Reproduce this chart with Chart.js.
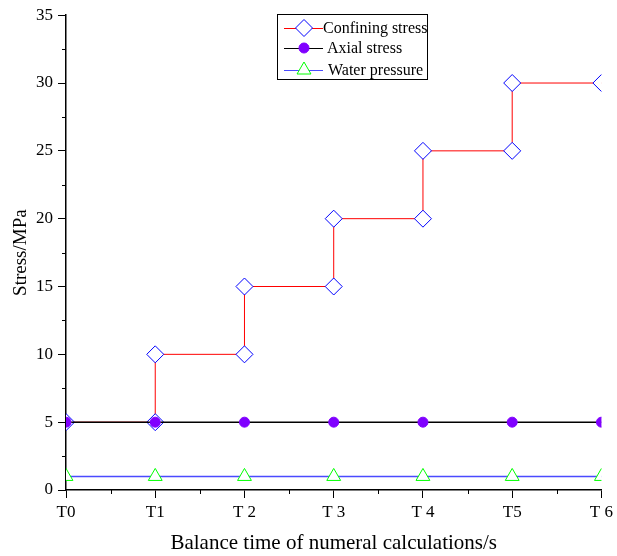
<!DOCTYPE html>
<html>
<head>
<meta charset="utf-8">
<script src="https://cdn.jsdelivr.net/npm/chart.js@4/dist/chart.umd.min.js"></script>
<style>
    html, body { margin: 0; padding: 0; background: #fff; }
    #wrap { width: 617px; height: 556px; }
</style>
</head>
<body>
<div id="wrap"><canvas id="stressChart" width="617" height="556"></canvas></div>
<script>

// Data
const timeLabels = ['T0', 'T1', 'T 2', 'T 3', 'T 4', 'T5', 'T 6'];
const timeSteps = [0, 1, 2, 3, 4, 5, 6];
const confiningX = [0, 1, 1, 2, 2, 3, 3, 4, 4, 5, 5, 6];
const confiningY = [5, 5, 10, 10, 15, 15, 20, 20, 25, 25, 30, 30];
const axialStress = [5, 5, 5, 5, 5, 5, 5];
const waterPressure = [1, 1, 1, 1, 1, 1, 1];
const yTicks = [0, 5, 10, 15, 20, 25, 30, 35];

const serif = "'Liberation Serif', 'Times New Roman', serif";

const series = [
    { label: 'Confining stress', line: '#ff0000', lineWidth: 1, marker: 'rectRot', markerColor: '#0000ff', markerFill: '#ffffff', radius: 8.5 },
    { label: 'Axial stress', line: '#000000', lineWidth: 1.5, marker: 'circle', markerColor: '#8000ff', markerFill: '#8000ff', radius: 5 },
    { label: 'Water pressure', line: '#4a4aff', lineWidth: 1.5, marker: 'triangle', markerColor: '#00ff00', markerFill: '#ffffff', radius: 8 }
];

const toPoints = (xs, ys) => xs.map((x, i) => ({ x: x, y: ys[i] }));

const drawMarker = (ctx, s, x, y) => {
    const r = s.radius;
    ctx.save();
    ctx.beginPath();
    if (s.marker === 'rectRot') {
        ctx.moveTo(x, y - r); ctx.lineTo(x + r, y); ctx.lineTo(x, y + r); ctx.lineTo(x - r, y); ctx.closePath();
    } else if (s.marker === 'triangle') {
        ctx.moveTo(x, y - r); ctx.lineTo(x + r * 0.87, y + r * 0.5); ctx.lineTo(x - r * 0.87, y + r * 0.5); ctx.closePath();
    } else {
        ctx.arc(x, y, r, 0, Math.PI * 2);
    }
    ctx.fillStyle = s.markerFill;
    ctx.fill();
    ctx.lineWidth = 1;
    ctx.strokeStyle = s.markerColor;
    ctx.stroke();
    ctx.restore();
}

// minor ticks + framed legend
const extras = {
    id: 'extras',
    afterDraw(chart) {
        const { ctx, scales: { x, y } } = chart;
        ctx.save();
        ctx.strokeStyle = '#000';
        ctx.lineWidth = 1;
        for (let v = 2.5; v < 35; v += 5) {
            const py = Math.round(y.getPixelForValue(v)) + 0.5;
            ctx.beginPath(); ctx.moveTo(x.left - 4, py); ctx.lineTo(x.left, py); ctx.stroke();
        }
        for (let v = 0.5; v < 6; v += 1) {
            const px = Math.round(x.getPixelForValue(v)) + 0.5;
            ctx.beginPath(); ctx.moveTo(px, y.bottom); ctx.lineTo(px, y.bottom + 4); ctx.stroke();
        }

        // legend box
        const bx = 277, by = 14, bw = 150, bh = 65;
        ctx.fillStyle = '#fff';
        ctx.fillRect(bx, by, bw, bh);
        ctx.lineWidth = 1;
        ctx.strokeStyle = '#000';
        ctx.strokeRect(bx + 0.5, by + 0.5, bw, bh);
        const rows = [28, 48, 70];
        const textX = [323, 327, 328];
        ctx.font = '16px ' + serif;
        ctx.textBaseline = 'middle';
        series.forEach((s, i) => {
            const ry = rows[i];
            ctx.strokeStyle = s.line;
            ctx.lineWidth = 1;
            ctx.beginPath(); ctx.moveTo(284, ry + 0.5); ctx.lineTo(323, ry + 0.5); ctx.stroke();
            drawMarker(ctx, s, 304, ry);
            ctx.fillStyle = '#000';
            ctx.fillText(s.label, textX[i], ry + 1);
        });
        ctx.restore();
    }
}

const makeDataset = (s, data, order) => ({
    label: s.label,
    data: data,
    borderColor: s.line,
    borderWidth: s.lineWidth,
    pointStyle: s.marker,
    pointRadius: s.radius,
    pointBorderColor: s.markerColor,
    pointBackgroundColor: s.markerFill,
    pointBorderWidth: 1,
    tension: 0,
    order: order
});

new Chart(document.getElementById('stressChart'), {
    type: 'line',
    data: {
        datasets: [
            makeDataset(series[0], toPoints(confiningX, confiningY), 3),
            makeDataset(series[1], toPoints(timeSteps, axialStress), 1),
            makeDataset(series[2], toPoints(timeSteps, waterPressure), 2)
        ]
    },
    options: {
        responsive: false,
        animation: false,
        layout: { padding: { top: 12, right: 15, left: 0, bottom: 0 } },
        plugins: {
            legend: { display: false },
            tooltip: { enabled: false }
        },
        scales: {
            x: {
                type: 'linear',
                min: 0,
                max: 6,
                afterFit: (scale) => { scale.height = 66; },
                afterBuildTicks: (scale) => { scale.ticks = timeSteps.map(v => ({ value: v })); },
                ticks: {
                    autoSkip: false,
                    maxRotation: 0,
                    padding: 4,
                    color: '#000',
                    font: { family: serif, size: 17 },
                    callback: (v) => timeLabels[v]
                },
                grid: { drawOnChartArea: false, tickLength: 8, tickColor: '#000', tickWidth: 1 },
                border: { color: '#000', width: 1.5 },
                title: {
                    display: true,
                    text: 'Balance time of numeral calculations/s',
                    color: '#000',
                    font: { family: serif, size: 21 },
                    padding: { top: 0, bottom: 0 }
                }
            },
            y: {
                min: 0,
                max: 35,
                afterFit: (scale) => { scale.width = 66; },
                afterBuildTicks: (scale) => { scale.ticks = yTicks.map(v => ({ value: v })); },
                ticks: {
                    padding: 5,
                    color: '#000',
                    font: { family: serif, size: 17 }
                },
                grid: { drawOnChartArea: false, tickLength: 8, tickColor: '#000', tickWidth: 1 },
                border: { color: '#000', width: 1.5 },
                title: {
                    display: true,
                    text: 'Stress/MPa',
                    color: '#000',
                    font: { family: serif, size: 19 },
                    padding: { top: 10, bottom: 0 }
                }
            }
        }
    },
    plugins: [extras]
});

</script>
</body>
</html>
